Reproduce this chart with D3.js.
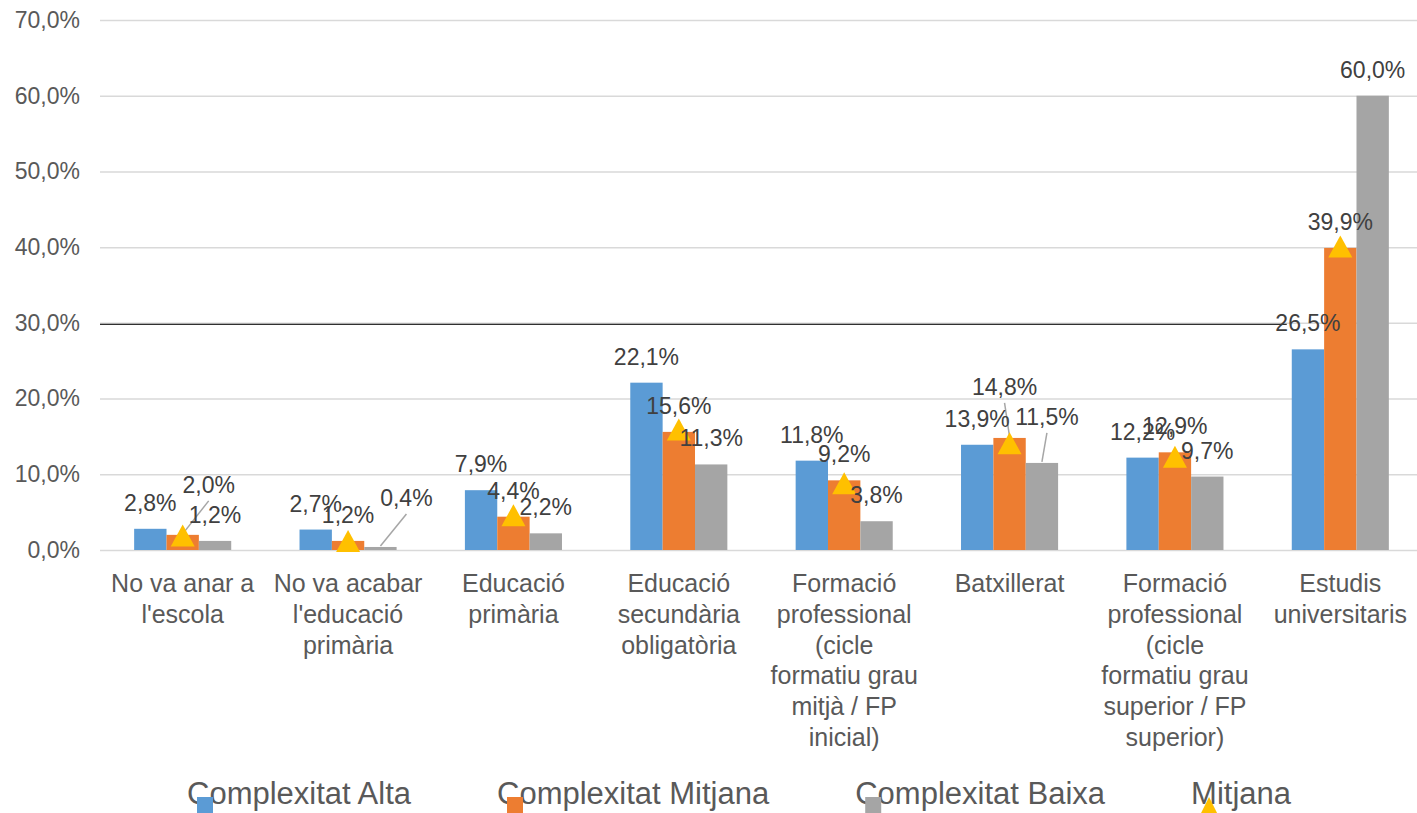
<!DOCTYPE html>
<html>
<head>
<meta charset="utf-8">
<script src="https://cdn.jsdelivr.net/npm/d3@7"></script>
<style>
  body { margin: 0; background: #fff; }
  text { font-family: "Liberation Sans", Arial, sans-serif; }
</style>
</head>
<body>
<div id="chart"></div>
<script>
// category names, already broken into the lines shown under the axis
const categoryLines = [
  ["No va anar a", "l'escola"],
  ["No va acabar", "l'educació", "primària"],
  ["Educació", "primària"],
  ["Educació", "secundària", "obligatòria"],
  ["Formació", "professional", "(cicle", "formatiu grau", "mitjà / FP", "inicial)"],
  ["Batxillerat"],
  ["Formació", "professional", "(cicle", "formatiu grau", "superior / FP", "superior)"],
  ["Estudis", "universitaris"]
];
const categories = categoryLines.map(l => l.join(" "));

const seriesNames = ["Complexitat Alta", "Complexitat Mitjana", "Complexitat Baixa"];
const alta    = [2.8, 2.7, 7.9, 22.1, 11.8, 13.9, 12.2, 26.5];
const mitjanaC = [2.0, 1.2, 4.4, 15.6, 9.2, 14.8, 12.9, 39.9];
const baixa   = [1.2, 0.4, 2.2, 11.3, 3.8, 11.5, 9.7, 60.0];
// "Mitjana" (triangles)
const mitjana = [1.9, 1.2, 4.6, 15.9, 8.8, 14.1, 12.3, 40.1];

const yTicks = [0, 10, 20, 30, 40, 50, 60, 70];
const refLine = 30;

const colors = ["#5B9BD5", "#ED7D31", "#A5A5A5"];
const triColor = "#FFC000";

// labels Excel moved off their bar (series index - category index)
const labelNudge = {
  "1-0": {dx: 26, dy: -24},
  "2-1": {dx: 26, dy: -23},
  "1-5": {dx: -5, dy: -25},
  "2-5": {dx: 5, dy: -20}
};

const W = 1417, H = 813;
const svg = d3.select("#chart").append("svg")
  .attr("width", W).attr("height", H);

const locale = d3.formatLocale({decimal: ",", thousands: ".", grouping: [3], currency: ["", "€"]});
const fmt = v => locale.format(".1f")(v) + "%";

const x0 = d3.scaleBand().domain(categories).range([100, 1423])
  .paddingInner(0.413).paddingOuter(0.2065);
const x1 = d3.scaleBand().domain(d3.range(3)).range([0, x0.bandwidth()]);
const y = d3.scaleLinear().domain([0, 70]).range([550, 20]);

// gridlines
svg.append("g").selectAll("line")
  .data(yTicks)
  .enter().append("line")
    .attr("x1", 100).attr("x2", W)
    .attr("y1", d => y(d) + 0.5).attr("y2", d => y(d) + 0.5)
    .attr("stroke", "#d9d9d9").attr("stroke-width", 1.5);

// dark reference line at 30%
svg.append("line")
  .attr("x1", 100)
  .attr("x2", x0(categories[7]) - 5)
  .attr("y1", y(refLine) + 1.5).attr("y2", y(refLine) + 1.5)
  .attr("stroke", "#303030").attr("stroke-width", 1.2);

// y axis labels
const yAxis = svg.append("g")
  .attr("transform", "translate(80,0)")
  .call(d3.axisLeft(y).tickValues(yTicks).tickSize(0).tickPadding(0).tickFormat(fmt));
yAxis.select(".domain").remove();
yAxis.selectAll("text")
  .attr("fill", "#595959")
  .style("font-size", "23px")
  .style("font-family", "'Liberation Sans', Arial, sans-serif");

// bars
const series = [alta, mitjanaC, baixa];
const barData = [];
series.forEach((vals, s) => vals.forEach((v, c) => barData.push({s, c, v})));

svg.append("g").selectAll("rect")
  .data(barData)
  .enter().append("rect")
    .attr("x", d => x0(categories[d.c]) + x1(d.s))
    .attr("y", d => y(d.v))
    .attr("width", x1.bandwidth())
    .attr("height", d => y(0) - y(d.v))
    .attr("fill", d => colors[d.s]);

// leader lines for the moved labels
const cx = d => x0(categories[d.c]) + x1(d.s) + x1.bandwidth() / 2;
const nudged = barData.filter(d => labelNudge[d.s + "-" + d.c]);
svg.append("g").selectAll("line")
  .data(nudged)
  .enter().append("line")
    .attr("x1", d => cx(d) + labelNudge[d.s + "-" + d.c].dx)
    .attr("y1", d => y(d.v) - 26 + labelNudge[d.s + "-" + d.c].dy + 16)
    .attr("x2", d => cx(d))
    .attr("y2", d => y(d.v) - 1)
    .attr("stroke", "#a6a6a6").attr("stroke-width", 1.5);

// Mitjana triangles
const tri = "M0,-11L12,11L-12,11Z";
svg.append("g").selectAll("path")
  .data(mitjana)
  .enter().append("path")
    .attr("d", tri)
    .attr("transform", (d, i) => "translate(" + (x0(categories[i]) + x1(1) + x1.bandwidth() / 2) + "," + y(d) + ")")
    .attr("fill", triColor);

// data labels
svg.append("g").selectAll("text")
  .data(barData)
  .enter().append("text")
    .attr("x", d => cx(d) + (labelNudge[d.s + "-" + d.c] || {dx: 0}).dx)
    .attr("y", d => y(d.v) - 26 + (labelNudge[d.s + "-" + d.c] || {dy: 0}).dy)
    .attr("dy", "0.35em")
    .attr("text-anchor", "middle")
    .attr("fill", "#404040")
    .style("font-size", "23px")
    .text(d => fmt(d.v));

// category labels
const catG = svg.append("g").selectAll("text")
  .data(categoryLines)
  .enter().append("text")
    .attr("x", (d, i) => x0(categories[i]) + x0.bandwidth() / 2)
    .attr("y", 592)
    .attr("text-anchor", "middle")
    .attr("fill", "#595959")
    .style("font-size", "25px");
catG.selectAll("tspan")
  .data(d => d)
  .enter().append("tspan")
    .attr("x", function() { return this.parentNode.getAttribute("x"); })
    .attr("dy", (d, i) => i === 0 ? 0 : 30.8)
    .text(d => d);

// legend
const legendItems = seriesNames.map((n, i) => ({name: n, color: colors[i], tri: false}))
  .concat([{name: "Mitjana", color: triColor, tri: true}]);
const legend = svg.append("g");
const items = legend.selectAll("g")
  .data(legendItems)
  .enter().append("g");
items.append("text")
  .attr("y", 804)
  .attr("fill", "#595959")
  .style("font-size", "31px")
  .text(d => d.name);
let pos = 0;
const gap = 86;
items.each(function(d) {
  const w = d3.select(this).select("text").node().getComputedTextLength();
  d.x = pos;
  pos += w + gap;
});
const total = pos - gap;
const start = 739 - total / 2;
items.attr("transform", d => "translate(" + (start + d.x) + ",0)");
items.filter(d => !d.tri).append("rect")
  .attr("x", 10).attr("y", 797).attr("width", 16).attr("height", 16)
  .attr("fill", d => d.color);
items.filter(d => d.tri).append("path")
  .attr("d", "M0,-10L10,10L-10,10Z")
  .attr("transform", "translate(18,807)")
  .attr("fill", d => d.color);
</script>
</body>
</html>
